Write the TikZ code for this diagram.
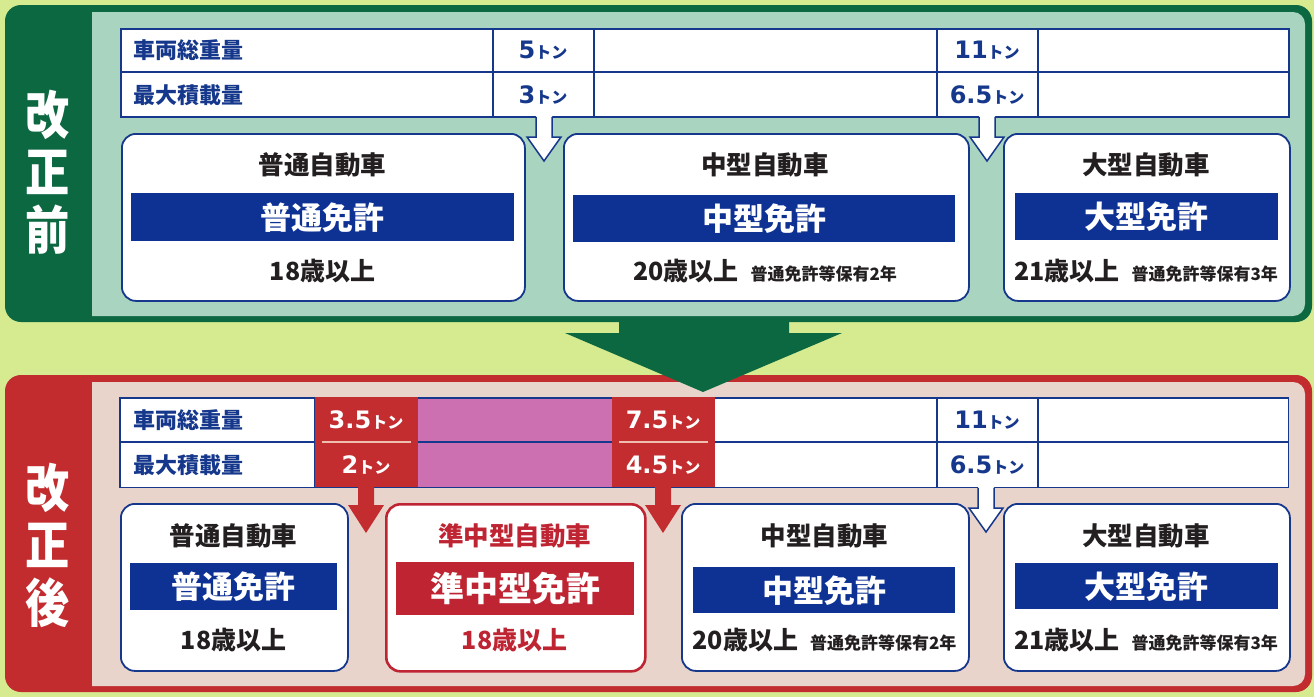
\documentclass[tikz,border=0pt]{standalone}
\usepackage{fontspec}
\setmainfont{Noto Sans CJK JP}
\newfontfamily\vfont{Noto Sans CJK JP}[FakeStretch=0.85]
\newfontfamily\numfont{DejaVu Sans}
\definecolor{bglime}{RGB}{214,234,144}
\definecolor{gframe}{RGB}{12,104,64}
\definecolor{gteal}{RGB}{168,212,192}
\definecolor{rframe}{RGB}{194,44,46}
\definecolor{rpink}{RGB}{233,212,204}
\definecolor{navy}{RGB}{22,56,140}
\definecolor{bandblue}{RGB}{14,50,148}
\definecolor{rband}{RGB}{190,36,50}
\definecolor{rblock}{RGB}{195,45,48}
\definecolor{magband}{RGB}{205,112,178}
\definecolor{ink}{RGB}{35,31,32}
\definecolor{sepline}{RGB}{240,190,175}
\newcommand{\tn}[1]{{\numfont\bfseries\fontsize{24}{24}\selectfont #1}{\bfseries\fontsize{16}{16}\selectfont トン}}
\newcommand{\agel}[2]{{\fontsize{25}{25}\selectfont #1}\hspace{12pt}{\fontsize{17}{17}\selectfont #2}}
\tikzset{
  box/.style={draw=navy, line width=1.8pt, fill=white, rounded corners=14pt, minimum height=167pt, inner sep=0pt, anchor=north west},
  rbox/.style={box, draw=rband, line width=2.6pt},
  bandn/.style={fill=bandblue, text=white, inner sep=0pt, anchor=north west, font=\bfseries\fontsize{31}{31}\selectfont},
  bandr/.style={bandn, fill=rband, font=\bfseries\fontsize{34}{34}\selectfont},
  ttl/.style={text=ink, inner sep=0pt, font=\bfseries\fontsize{25.5}{26}\selectfont},
  age/.style={text=ink, inner sep=0pt, font=\bfseries},
  lbl/.style={text=navy, inner sep=0pt, anchor=west, font=\bfseries\fontsize{22}{22}\selectfont},
  val/.style={text=navy, inner sep=0pt},
  wval/.style={text=white, inner sep=0pt},
  tline/.style={draw=navy, line width=1.5pt},
  vlab/.style={text=white, align=center, inner sep=0pt, font=\vfont\bfseries\fontsize{52}{57.5}\selectfont},
  pics/harrow/.style={code={
    \fill[white] (-8,-2) -- (8,-2) -- (8,21) -- (17,21) -- (0,45) -- (-17,21) -- (-8,21) -- cycle;
    \draw[navy, line width=1.5pt] (-8,0.8) -- (-8,21) -- (-17,21) -- (0,45) -- (17,21) -- (8,21) -- (8,0.8);
  }},
  pics/rarrow/.style={code={
    \fill[rblock] (-8,-1) -- (8,-1) -- (8,18) -- (18,18) -- (0,46) -- (-18,18) -- (-8,18) -- cycle;
  }}
}
\begin{document}
\begin{tikzpicture}[x=1pt,y=-1pt]
\useasboundingbox (0,0) rectangle (1314,697);
\fill[bglime] (0,0) rectangle (1314,697);
% ---------- top frame ----------
\fill[gframe, rounded corners=16pt] (5,5) rectangle (1312,322);
\fill[gteal] (92,12) [rounded corners=12pt] -- (1305,12) -- (1305,316) [sharp corners] -- (92,316) -- cycle;
% ---------- bottom frame ----------
\fill[rframe, rounded corners=16pt] (5,375) rectangle (1312,692);
\fill[rpink] (92,382) [rounded corners=12pt] -- (1305,382) -- (1305,686) [sharp corners] -- (92,686) -- cycle;
% ---------- big arrow ----------
\fill[gframe] (619,318) -- (789,318) -- (789,333) -- (842,333) -- (703,392) -- (565,333) -- (619,333) -- cycle;
% ---------- side labels ----------
\node[vlab] (V1) at (48,172) {改\\正\\前};
\node[vlab] (V2) at (48,545) {改\\正\\後};
% ---------- top table ----------
\node[fill=white, draw=navy, line width=1.5pt, minimum width=1168pt, minimum height=88pt, inner sep=0pt, anchor=north west] (T1) at (120,28) {};
\draw[tline] (120,72) -- (1288,72);
\foreach \cx in {493,594,937,1038} \draw[tline] (\cx,28) -- (\cx,116);
\node[lbl] (L1) at (133,50) {車両総重量};
\node[lbl] (L2) at (133,95) {最大積載量};
\node[val] (A1) at (543,50) {\tn{5}};
\node[val] (A2) at (543,95) {\tn{3}};
\node[val] (A3) at (987,50) {\tn{11}};
\node[val] (A4) at (987,95) {\tn{6.5}};
% ---------- top boxes ----------
\node[box, minimum width=403pt] (B1) at (121,133) {};
\node[box, minimum width=405pt] (B2) at (563,133) {};
\node[box, minimum width=286pt] (B3) at (1003,133) {};
\pic at (544,116) {harrow};
\pic at (987,116) {harrow};
\node[ttl] (B1t) at (322.5,165) {普通自動車};
\node[ttl] (B2t) at (765,165) {中型自動車};
\node[ttl] (B3t) at (1146,165) {大型自動車};
\node[bandn, minimum width=383pt, minimum height=48pt] (N1) at (131,193) {普通免許};
\node[bandn, minimum width=382pt, minimum height=47pt] (N2) at (573,195) {中型免許};
\node[bandn, minimum width=263pt, minimum height=47pt] (N3) at (1015,193) {大型免許};
\node[age, font=\bfseries\fontsize{25}{25}\selectfont] (B1a) at (322.5,271) {18歳以上};
\node[age] (B2a) at (765,271) {\agel{20歳以上}{普通免許等保有2年}};
\node[age] (B3a) at (1146,271) {\agel{21歳以上}{普通免許等保有3年}};
% ---------- bottom table ----------
\node[fill=white, minimum width=1168pt, minimum height=89pt, inner sep=0pt, anchor=north west] (T2) at (120,398) {};
\fill[magband] (418,398) rectangle (612,487);
\draw[tline] (T2.north west) rectangle (T2.south east);
\draw[tline] (120,442) -- (1288,442);
\foreach \cx in {315,937,1038} \draw[tline] (\cx,398) -- (\cx,487);
\node[fill=rblock, minimum width=103pt, minimum height=90pt, inner sep=0pt, anchor=north west] (R1) at (315,397) {};
\node[fill=rblock, minimum width=103pt, minimum height=90pt, inner sep=0pt, anchor=north west] (R2) at (612,397) {};
\draw[sepline, line width=1.5pt] (322,442) -- (411,442);
\draw[sepline, line width=1.5pt] (619,442) -- (708,442);
\node[lbl] (L3) at (133,420) {車両総重量};
\node[lbl] (L4) at (133,465) {最大積載量};
\node[wval] (D1) at (366,420) {\tn{3.5}};
\node[wval] (D2) at (366,465) {\tn{2}};
\node[wval] (D3) at (663,420) {\tn{7.5}};
\node[wval] (D4) at (663,465) {\tn{4.5}};
\node[val] (D5) at (987,420) {\tn{11}};
\node[val] (D6) at (987,465) {\tn{6.5}};
% ---------- bottom boxes ----------
\node[box, minimum width=227pt] (C1) at (120,503) {};
\node[rbox, minimum width=259pt] (C2) at (385,503) {};
\node[box, minimum width=287pt] (C3) at (681,503) {};
\node[box, minimum width=286pt] (C4) at (1003,503) {};
\pic at (366,487) {rarrow};
\pic at (663,487) {rarrow};
\pic at (986,487) {harrow};
\node[ttl] (C1t) at (233.5,536) {普通自動車};
\node[ttl, text=rband] (C2t) at (514.5,536) {準中型自動車};
\node[ttl] (C3t) at (824.5,536) {中型自動車};
\node[ttl] (C4t) at (1146,536) {大型自動車};
\node[bandn, minimum width=207pt, minimum height=47pt] (M1) at (130,563) {普通免許};
\node[bandr, minimum width=238pt, minimum height=53pt] (M2) at (396,562) {準中型免許};
\node[bandn, minimum width=262pt, minimum height=46pt] (M3) at (693,567) {中型免許};
\node[bandn, minimum width=263pt, minimum height=46pt] (M4) at (1015,563) {大型免許};
\node[age, font=\bfseries\fontsize{25}{25}\selectfont] (C1a) at (233.5,640) {18歳以上};
\node[age, text=rband, font=\bfseries\fontsize{25}{25}\selectfont] (C2a) at (514.5,640) {18歳以上};
\node[age] (C3a) at (824.5,640) {\agel{20歳以上}{普通免許等保有2年}};
\node[age] (C4a) at (1146,640) {\agel{21歳以上}{普通免許等保有3年}};
\end{tikzpicture}
\end{document}
